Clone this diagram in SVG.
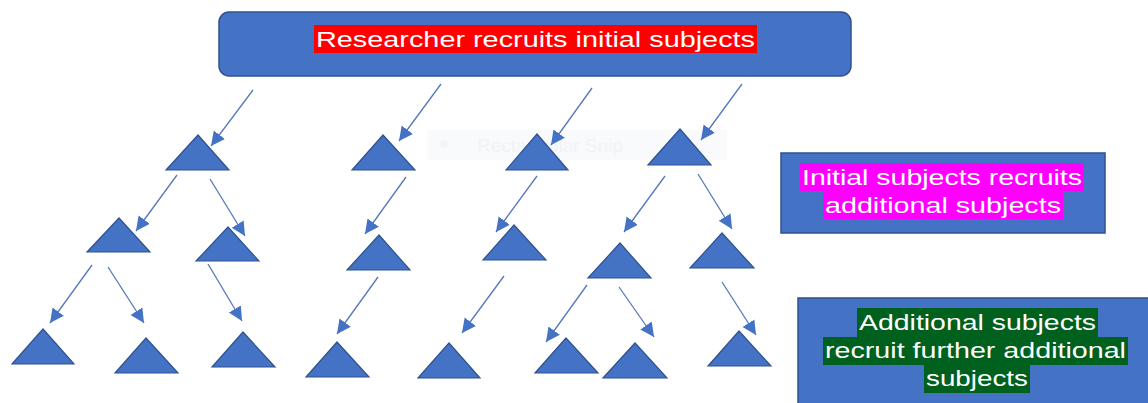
<svg xmlns="http://www.w3.org/2000/svg" width="1148" height="403" viewBox="0 0 1148 403">
<style>
.box{fill:#4472C4;stroke:#2F528F;stroke-width:1.5}
.tri{fill:#4472C4;stroke:#2F528F;stroke-width:1.2;stroke-linejoin:miter}
.t{font-family:"Liberation Sans",Arial,sans-serif;font-size:21.5px;fill:#FFFFFF}
.c line{stroke:#5578B9;stroke-width:1.3;marker-end:url(#ah)}
</style>
<defs>
<marker id="ah" markerUnits="userSpaceOnUse" markerWidth="16" markerHeight="16" viewBox="0 0 16 16" refX="14" refY="8" orient="auto">
<path d="M0,1 L14,8 L0,15 z" fill="#4472C4"/>
</marker>
</defs>
<rect width="1148" height="403" fill="#FFFFFF"/>
<g id="watermark" opacity="0.5">
<rect x="427" y="130" width="300" height="30" fill="#F3F6FB"/>
<circle cx="444" cy="144" r="4" fill="#E4EAF4"/>
<text x="477" y="152" font-family="'Liberation Sans',Arial,sans-serif" font-size="19" fill="#E2E8F2">Rectangular Snip</text>
</g>
<g id="top-box">
<rect class="box" x="219" y="12" width="632" height="64" rx="10"/>
<rect x="314" y="25" width="443" height="28" fill="#FF0000"/>
<text class="t" x="316" y="47" textLength="439" lengthAdjust="spacingAndGlyphs">Researcher recruits initial subjects</text>
</g>
<g id="label-initial">
<rect class="box" x="781" y="153" width="324" height="80"/>
<rect x="800" y="163" width="284" height="28" fill="#FF00FF"/>
<rect x="823" y="191" width="240" height="28" fill="#FF00FF"/>
<text class="t" x="802" y="185" textLength="280" lengthAdjust="spacingAndGlyphs">Initial subjects recruits</text>
<text class="t" x="825" y="213" textLength="236" lengthAdjust="spacingAndGlyphs">additional subjects</text>
</g>
<g id="label-additional">
<rect class="box" x="798" y="298" width="362" height="112"/>
<rect x="857" y="308" width="241" height="29" fill="#00601E"/>
<rect x="823" y="337" width="305" height="28" fill="#00601E"/>
<rect x="924" y="365" width="106" height="28" fill="#00601E"/>
<text class="t" x="859" y="330" textLength="237" lengthAdjust="spacingAndGlyphs">Additional subjects</text>
<text class="t" x="825" y="358" textLength="301" lengthAdjust="spacingAndGlyphs">recruit further additional</text>
<text class="t" x="926" y="386" textLength="102" lengthAdjust="spacingAndGlyphs">subjects</text>
</g>
<g id="level1">
<polygon id="n1a" class="tri" points="198,135 229,170 166,170"/>
<polygon id="n1b" class="tri" points="383,135 415,170 352,170"/>
<polygon id="n1c" class="tri" points="537,134 568,170 506,170"/>
<polygon id="n1d" class="tri" points="680,129 711,165 648,165"/>
</g>
<g id="level2">
<polygon id="n2a" class="tri" points="119,218 150,252 87,252"/>
<polygon id="n2b" class="tri" points="228,227 259,261 196,261"/>
<polygon id="n2c" class="tri" points="379,235 410,270 347,270"/>
<polygon id="n2d" class="tri" points="514,225 546,260 483,260"/>
<polygon id="n2e" class="tri" points="620,243 651,278 588,278"/>
<polygon id="n2f" class="tri" points="722,233 754,268 690,268"/>
</g>
<g id="level3">
<polygon id="n3a" class="tri" points="43,329 74,364 12,364"/>
<polygon id="n3b" class="tri" points="146,338 178,373 115,373"/>
<polygon id="n3c" class="tri" points="243,332 275,367 212,367"/>
<polygon id="n3d" class="tri" points="337,342 369,377 306,377"/>
<polygon id="n3e" class="tri" points="449,343 480,378 418,378"/>
<polygon id="n3f" class="tri" points="566,338 598,373 535,373"/>
<polygon id="n3g" class="tri" points="635,343 667,378 603,378"/>
<polygon id="n3h" class="tri" points="739,331 771,366 708,366"/>
</g>
<g id="connectors" class="c">
<line x1="253" y1="90" x2="211" y2="146"/>
<line x1="441" y1="84" x2="399" y2="141"/>
<line x1="592" y1="88" x2="551" y2="145"/>
<line x1="742" y1="84" x2="701" y2="140"/>
<line x1="177" y1="175" x2="136" y2="231"/>
<line x1="210" y1="179" x2="245" y2="236"/>
<line x1="406" y1="177" x2="365" y2="234"/>
<line x1="537" y1="176" x2="496" y2="232"/>
<line x1="665" y1="176" x2="624" y2="232"/>
<line x1="698" y1="174" x2="732" y2="229"/>
<line x1="92" y1="265" x2="50" y2="323"/>
<line x1="108" y1="267" x2="144" y2="323"/>
<line x1="208" y1="264" x2="242" y2="321"/>
<line x1="378" y1="277" x2="337" y2="334"/>
<line x1="504" y1="276" x2="462" y2="333"/>
<line x1="587" y1="285" x2="546" y2="342"/>
<line x1="619" y1="287" x2="654" y2="337"/>
<line x1="722" y1="282" x2="756" y2="335"/>
</g>
</svg>
